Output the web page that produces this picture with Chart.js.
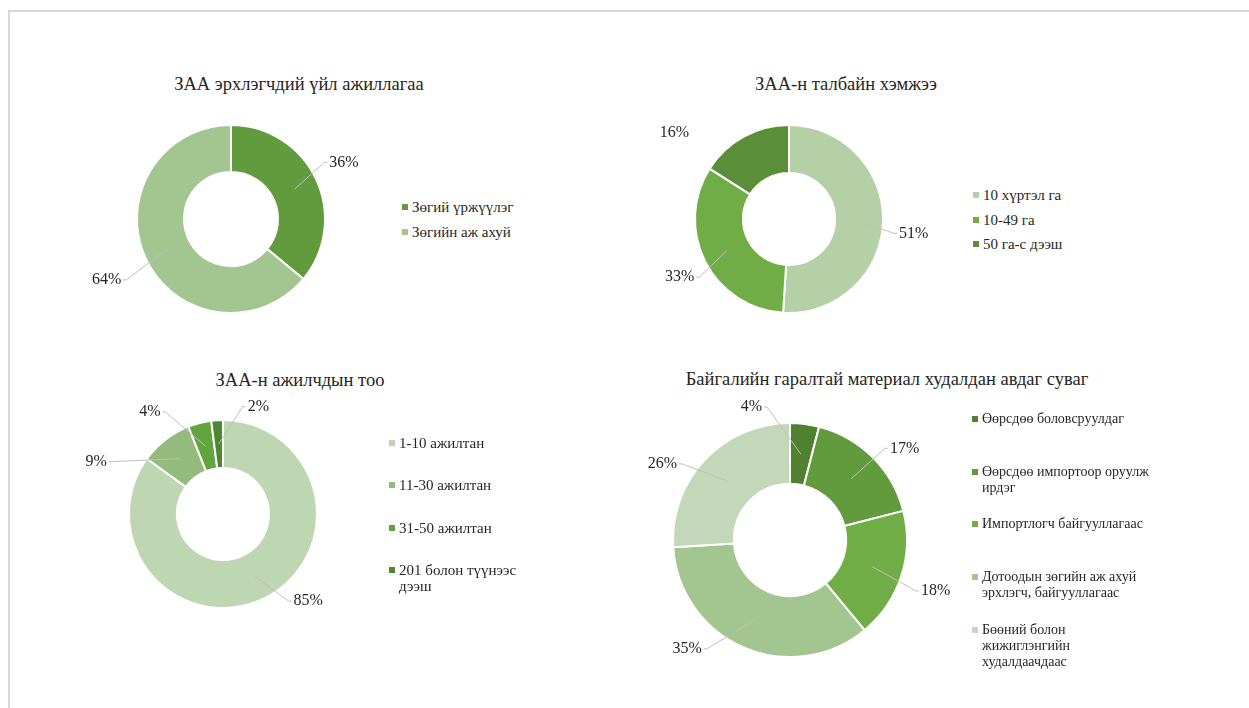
<!DOCTYPE html>
<html>
<head>
<meta charset="utf-8">
<script src="https://cdn.jsdelivr.net/npm/chart.js@4/dist/chart.umd.min.js"></script>
<style>
  body { margin: 0; background: #fff; }
  #page { position: relative; width: 1249px; height: 708px; overflow: hidden; font-family: "Liberation Serif", "Times New Roman", serif; color: #262626; }
  #frame { position: absolute; left: 8px; top: 10px; width: 1400px; height: 900px; border: 2px solid #d9d9d9; }
  canvas { position: absolute; }
  .title { position: absolute; width: 600px; text-align: center; font-size: 18.5px; line-height: 20px; white-space: nowrap; }
  .legend { position: absolute; line-height: 16px; }
  .legend .item { display: flex; align-items: flex-start; }
  .legend .sw { width: 6px; height: 6px; margin: 5px 4px 0 0; flex: none; }
  .legend .tx { white-space: nowrap; }
</style>
</head>
<body>
<div id="page">
  <div id="frame"></div>
</div>
<script>
// Chart data (multi-line labels are arrays, as Chart.js expects)
const activityLabels = ['Зөгий үржүүлэг', 'Зөгийн аж ахуй'];
const activityValues = [36, 64];
const activityColors = ['#629b3d', '#a3c590'];

const areaLabels = ['10 хүртэл га', '10-49 га', '50 га-с дээш'];
const areaValues = [51, 33, 16];
const areaColors = ['#b5d0a7', '#70ad47', '#5b8e39'];

const workerLabels = ['1-10 ажилтан', '11-30 ажилтан', '31-50 ажилтан', ['201 болон түүнээс', 'дээш']];
const workerValues = [85, 9, 4, 2];
const workerColors = ['#bed6b2', '#92bb7c', '#62a43e', '#4e8631'];

const channelLabels = [
    'Өөрсдөө боловсруулдаг',
    ['Өөрсдөө импортоор оруулж', 'ирдэг'],
    'Импортлогч байгууллагаас',
    ['Дотоодын зөгийн аж ахуй', 'эрхлэгч, байгууллагаас'],
    ['Бөөний болон', 'жижиглэнгийн', 'худалдаачдаас']
];
const channelValues = [4, 17, 18, 35, 26];
const channelColors = ['#4f8131', '#619b3d', '#70ad47', '#a3c590', '#c3d8b8'];

// draws "NN%" labels with grey leader lines, like Excel does
const calloutPlugin = {
    id: 'callouts',
    afterDatasetsDraw(chart, args, opts) {
        const ctx = chart.ctx;
        const meta = chart.getDatasetMeta(0);
        const data = chart.data.datasets[0].data;
        const total = data.reduce((a, b) => a + b, 0);
        ctx.save();
        ctx.font = '16px "Liberation Serif"';
        ctx.textBaseline = 'middle';
        ctx.fillStyle = '#262626';
        ctx.strokeStyle = '#bfbfbf';
        ctx.lineWidth = 1;
        meta.data.forEach((arc, i) => {
            const p = arc.getProps(['x', 'y', 'startAngle', 'endAngle', 'innerRadius', 'outerRadius'], true);
            const mid = (p.startAngle + p.endAngle) / 2;
            const rMid = (p.innerRadius + p.outerRadius) / 2;
            const sx = p.x + Math.cos(mid) * rMid;
            const sy = p.y + Math.sin(mid) * rMid;
            const a = mid + (opts.shift[i] || 0) * Math.PI / 180;
            const rr = p.outerRadius + opts.gap[i];
            const ex = p.x + Math.cos(a) * rr;
            const ey = p.y + Math.sin(a) * rr;
            const right = Math.cos(a) >= 0;
            if (!opts.noLine || !opts.noLine[i]) {
                ctx.beginPath();
                ctx.moveTo(sx, sy);
                ctx.lineTo(ex, ey);
                ctx.lineTo(ex + (right ? 3 : -3), ey);
                ctx.stroke();
            }
            ctx.textAlign = right ? 'left' : 'right';
            const txt = Math.round(data[i] / total * 100) + '%';
            ctx.fillText(txt, ex + (right ? 5 : -5), ey);
        });
        ctx.restore();
    }
};

function makeDonut(cfg) {
    const page = document.getElementById('page');
    const canvas = document.createElement('canvas');
    canvas.width = cfg.w;
    canvas.height = cfg.h;
    canvas.style.left = (cfg.cx - cfg.w / 2) + 'px';
    canvas.style.top = (cfg.cy - cfg.h / 2) + 'px';
    page.appendChild(canvas);

    new Chart(canvas.getContext('2d'), {
        type: 'doughnut',
        data: {
            labels: cfg.labels,
            datasets: [{
                data: cfg.values,
                backgroundColor: cfg.colors,
                borderColor: '#ffffff',
                borderWidth: 2,
                hoverOffset: 0
            }]
        },
        options: {
            responsive: false,
            animation: false,
            radius: cfg.radius,
            cutout: cfg.cutout,
            plugins: {
                legend: { display: false },
                tooltip: { enabled: false },
                callouts: cfg.callouts
            }
        },
        plugins: [calloutPlugin]
    });

    // title
    const t = document.createElement('div');
    t.className = 'title';
    t.textContent = cfg.title;
    t.style.left = (cfg.titleX - 300) + 'px';
    t.style.top = (cfg.titleY - 10) + 'px';
    page.appendChild(t);

    // legend
    const lg = document.createElement('div');
    lg.className = 'legend';
    lg.style.left = cfg.legendX + 'px';
    lg.style.top = cfg.legendY + 'px';
    lg.style.fontSize = cfg.legendFont + 'px';
    cfg.labels.forEach((lab, i) => {
        const it = document.createElement('div');
        it.className = 'item';
        it.style.height = cfg.legendStep + 'px';
        const sw = document.createElement('span');
        sw.className = 'sw';
        sw.style.background = cfg.colors[i];
        const tx = document.createElement('span');
        tx.className = 'tx';
        [].concat(lab).forEach((line, k) => {
            if (k > 0) tx.appendChild(document.createElement('br'));
            tx.appendChild(document.createTextNode(line));
        });
        it.appendChild(sw);
        it.appendChild(tx);
        lg.appendChild(it);
    });
    page.appendChild(lg);
}

makeDonut({
    title: 'ЗАА эрхлэгчдий үйл ажиллагаа', titleX: 299, titleY: 84,
    labels: activityLabels, values: activityValues, colors: activityColors,
    cx: 231, cy: 219, w: 340, h: 220, radius: 94, cutout: '50%',
    callouts: { shift: [-6, -5], gap: [15, 27] },
    legendX: 402, legendY: 199, legendStep: 25, legendFont: 15
});

makeDonut({
    title: 'ЗАА-н талбайн хэмжээ', titleX: 846, titleY: 84,
    labels: areaLabels, values: areaValues, colors: areaColors,
    cx: 789, cy: 219, w: 340, h: 220, radius: 94, cutout: '49%',
    callouts: { shift: [6, -6, -19], gap: [12, 13, 34], noLine: [false, false, true] },
    legendX: 973, legendY: 187, legendStep: 24.5, legendFont: 15
});

makeDonut({
    title: 'ЗАА-н ажилчдын тоо', titleX: 300, titleY: 380,
    labels: workerLabels, values: workerValues, colors: workerColors,
    cx: 223, cy: 514, w: 340, h: 236, radius: 94, cutout: '49%',
    callouts: { shift: [-10, -27, -15, 14], gap: [15, 29, 23, 15] },
    legendX: 389, legendY: 435, legendStep: 42.3, legendFont: 15
});

makeDonut({
    title: 'Байгалийн гаралтай материал худалдан авдаг суваг', titleX: 887, titleY: 379,
    labels: channelLabels, values: channelValues, colors: channelColors,
    cx: 790, cy: 540, w: 380, h: 300, radius: 117, cutout: '48%',
    callouts: { shift: [-17, 1, 4, 14, -8], gap: [18, 15, 19, 20, 15] },
    legendX: 972, legendY: 411, legendStep: 52.7, legendFont: 14
});
</script>
</body>
</html>
